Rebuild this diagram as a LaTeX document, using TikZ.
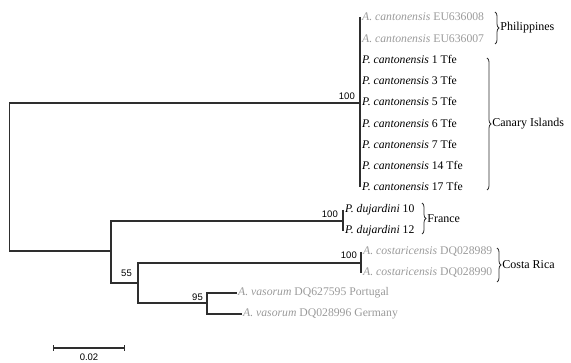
\documentclass[tikz,border=0pt]{standalone}
\usepackage{fontspec}
\setmainfont{Liberation Serif}
\setsansfont{Liberation Sans}
\usetikzlibrary{
	arrows.meta,
	positioning,
	decorations.pathreplacing
}
\definecolor{TreeInk}{HTML}{2E2E2E}
\definecolor{TaxonGrey}{HTML}{9A9A9A}

\begin{document}
\begin{tikzpicture}[
 x=1pt,y=-1pt,
 branch/.style={draw=TreeInk,line width=1.2pt},
 taxon/.style={anchor=west,inner xsep=2pt,inner ysep=0pt,text=black,
   font=\fontsize{11.7}{12}\selectfont},
 greytaxon/.style={taxon,text=TaxonGrey},
 boot/.style={inner sep=0pt,font=\sffamily\fontsize{9.5}{10}\selectfont},
 region/.style={anchor=west,inner sep=0pt,xshift=5pt,
   font=\fontsize{12}{13}\selectfont},
 brace/.style={draw=TreeInk,line width=.8pt,decorate,
   decoration={brace,amplitude=4pt}},
 scalebar/.style={draw=TreeInk,line width=1.2pt,{Bar[width=6pt]}-{Bar[width=6pt]}}
]
 \useasboundingbox (0,0) rectangle (571,363);
 % leaves
 \node[greytaxon] (c1) at (360,17) {\textit{A. cantonensis} EU636008};
 \node[greytaxon] (c2) at (360,38.2) {\textit{A. cantonensis} EU636007};
 \foreach \i/\tfe in {3/1,4/3,5/5,6/6,7/7,8/14,9/17}
   \node[taxon] (c\i) at (360,{17+21.2*(\i-1)}) {\textit{P. cantonensis} \tfe\ Tfe};
 \node[taxon] (d1) at (343,210) {\textit{P. dujardini} 10};
 \node[taxon] (d2) at (343,231) {\textit{P. dujardini} 12};
 \node[greytaxon] (k1) at (361,252) {\textit{A. costaricensis} DQ028989};
 \node[greytaxon] (k2) at (361,273) {\textit{A. costaricensis} DQ028990};
 \node[greytaxon,inner xsep=1pt] (por) at (237,293) {\textit{A. vasorum} DQ627595 Portugal};
 \node[greytaxon,inner xsep=1pt] (ger) at (242,314) {\textit{A. vasorum} DQ028996 Germany};
 % internal nodes
 \coordinate (cant) at (360,103);
 \coordinate (root) at (9.5,177);
 \coordinate (ff) at (111,251);
 \coordinate (fr) at (343,221);
 \coordinate (cr) at (361,263);
 \coordinate (n55) at (138,283);
 \coordinate (n95) at (207,303);
 % branches
 \draw[branch] (c1.west)--(c9.west);
 \draw[branch] (d1.west)--(d2.west);
 \draw[branch] (k1.west)--(k2.west);
 \draw[branch] (cant) -| (root) |- (ff);
 \draw[branch] (fr) -| (ff) |- (n55);
 \draw[branch] (cr) -| (n55) |- (n95);
 \draw[branch] (por.west) -| (n95) |- (ger.west);
 % bootstrap values
 \node[boot,above left=3pt and 5pt of cant] (b1) {100};
 \node[boot,above left=3pt and 5pt of fr] (b2) {100};
 \node[boot,above left=4pt and 4pt of cr] (b3) {100};
 \node[boot,above left=6pt and 6pt of n55] (b4) {55};
 \node[boot,above left=2pt and 4pt of n95] (b5) {95};
 % regions
 \draw[brace] (495,12)--(495,44) node[region,midway] (phil) {Philippines};
 \draw[brace] (487,58)--(487,190) node[region,midway] (cana) {Canary Islands};
 \draw[brace] (422,203)--(422,234) node[region,midway] (fran) {France};
 \draw[brace] (497,248)--(497,282) node[region,midway] (cost) {Costa Rica};
 % scale
 \coordinate (sb0) at (53,348);
 \coordinate (sb1) at (125,348);
 \draw[scalebar] (sb0)--(sb1) node[boot,midway,below=5pt] (sblab) {0.02};
\end{tikzpicture}
\end{document}
